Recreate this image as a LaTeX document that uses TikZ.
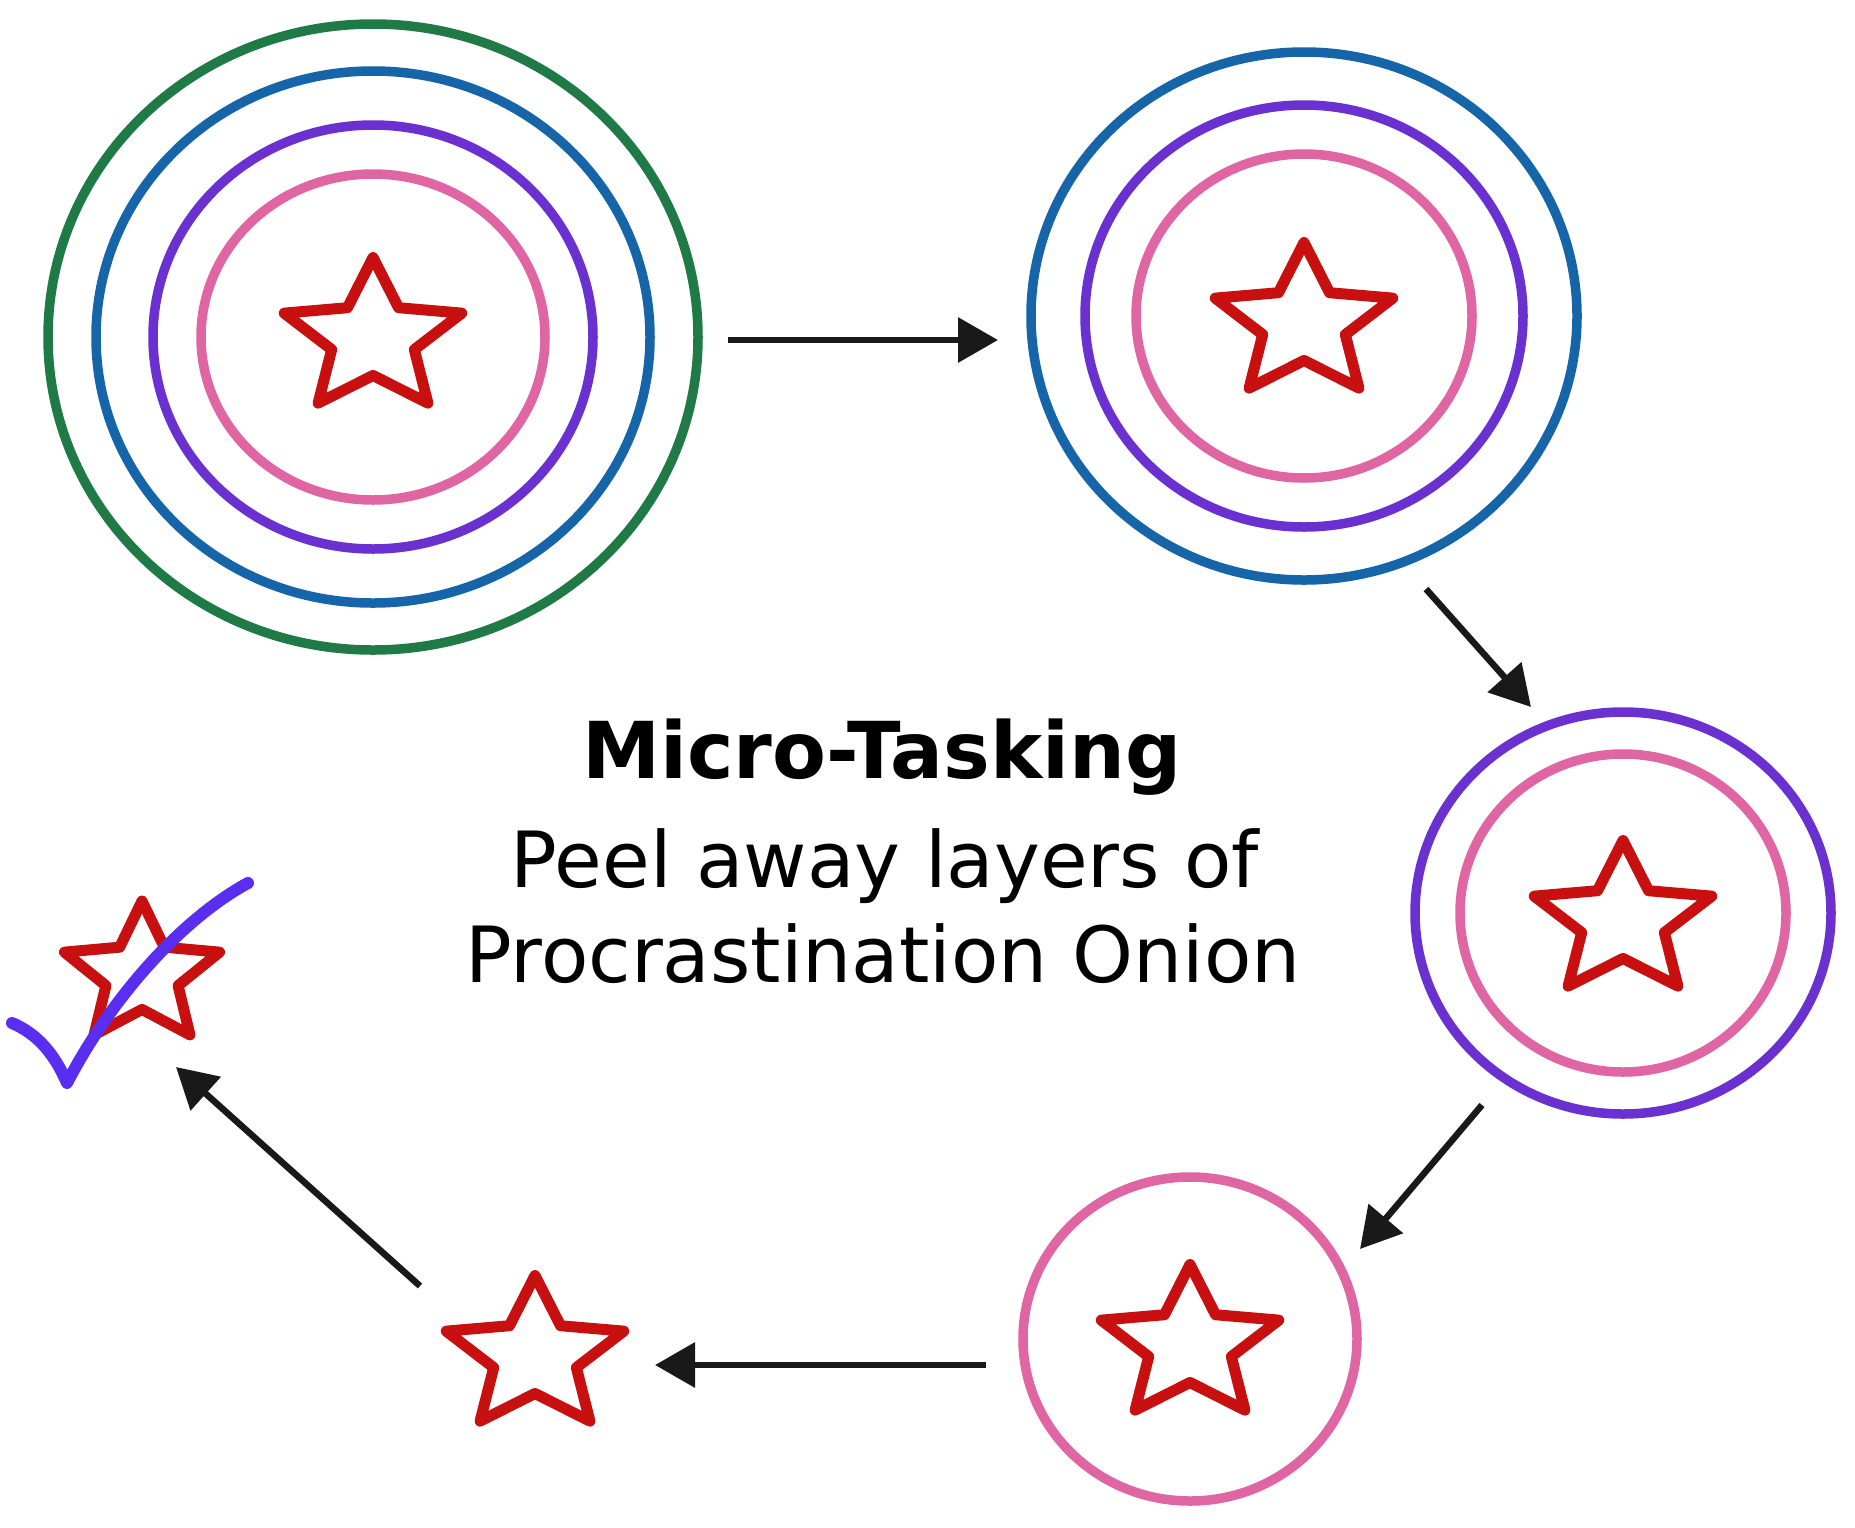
\documentclass[tikz,border=0pt]{standalone}
\usepackage{fontspec}
\setmainfont{DejaVu Sans}
\usetikzlibrary{shapes.geometric,arrows.meta,positioning}

\begin{document}
\begin{tikzpicture}[
        x=1pt, y=-1pt,
    layer/.style={draw, ellipse, inner sep=0pt, line width=9.5pt},
    starx/.style={draw=rdx, star, star points=5, star point ratio=2.15,
        minimum size=161pt, inner sep=0pt, line width=11pt, line join=round, xscale=1.16},
    peel/.style={draw=black!90, line width=6.5pt,
        -{Triangle[length=40pt,width=44pt]}},
    txt/.style={anchor=base, inner sep=0pt, font=\fontsize{77.5}{92}\selectfont}
]
\definecolor{gnx}{HTML}{1F7A45}
\definecolor{blx}{HTML}{1565A8}
\definecolor{pux}{HTML}{6A30D0}
    \definecolor{pkx}{HTML}{E066A3}
\definecolor{rdx}{HTML}{C81010}
\definecolor{ckx}{HTML}{5A2EF0}

    \useasboundingbox [fill=white] (0,0) rectangle (1855,1527);

    % onion 1
    \node [layer, draw=gnx, minimum width=650pt, minimum height=626pt] (o1g) at (373,337) {};
    \node [layer, draw=blx, minimum width=554pt, minimum height=532pt] (o1b) at (373,337) {};
    \node [layer, draw=pux, minimum width=440pt, minimum height=424pt] (o1p) at (373,337) {};
    \node [layer, draw=pkx, minimum width=344pt, minimum height=326pt] (o1k) at (373,337) {};
    \node [starx] (s1) at (373,338) {};

    % onion 2
    \node [layer, draw=blx, minimum width=546pt, minimum height=528pt] (o2b) at (1304,316) {};
    \node [layer, draw=pux, minimum width=438pt, minimum height=422pt] (o2p) at (1304,316) {};
    \node [layer, draw=pkx, minimum width=336pt, minimum height=324pt] (o2k) at (1304,316) {};
    \node [starx] (s2) at (1304,323) {};

    % onion 3
    \node [layer, draw=pux, minimum width=416pt, minimum height=402pt] (o3p) at (1623,913) {};
    \node [layer, draw=pkx, minimum width=326pt, minimum height=318pt] (o3k) at (1623,913) {};
    \node [starx] (s3) at (1623,921) {};

    % onion 4
    \node [layer, draw=pkx, minimum width=334pt, minimum height=324pt] (o4k) at (1190,1339) {};
    \node [starx] (s4) at (1190,1345) {};

    % bare star and done
    \node [starx] (s5) at (535,1356) {};
    \node [starx, minimum size=148pt, xscale=0.95] (s6) at (142,975) {};
    \coordinate (ck1) at (12,1023);
    \coordinate (ck2) at (67,1083);
    \coordinate (ck3) at (248,883);
    \draw [ckx, line width=12pt, line cap=round, line join=round] (ck1)
        .. controls (38,1034) and (55,1055) .. (ck2)
        .. controls (110,1000) and (180,920) .. (ck3)
    ;

    % arrows
    \coordinate (a1s) at (728,340);
    \coordinate (a1e) at (998,340);
    \coordinate (a2s) at (1426,589);
    \coordinate (a2e) at (1531,707);
    \coordinate (a3s) at (1482,1105);
    \coordinate (a3e) at (1360,1249);
    \coordinate (a4s) at (986,1365);
    \coordinate (a4e) at (655,1365);
    \coordinate (a5s) at (420,1286);
    \coordinate (a5e) at (176,1067);
    \draw [peel] (a1s) -- (a1e);
    \draw [peel] (a2s) -- (a2e);
    \draw [peel] (a3s) -- (a3e);
    \draw [peel] (a4s) -- (a4e);
    \draw [peel] (a5s) -- (a5e);

    % text
    \node [txt, font=\fontsize{78.5}{92}\selectfont\bfseries] (title) at (882,778) {Micro-Tasking};
    \node [txt] (peelx) at (885,887) {Peel away layers of};
    \node [txt] (onion) at (883,982) {Procrastination Onion};
  \end{tikzpicture}
\end{document}
